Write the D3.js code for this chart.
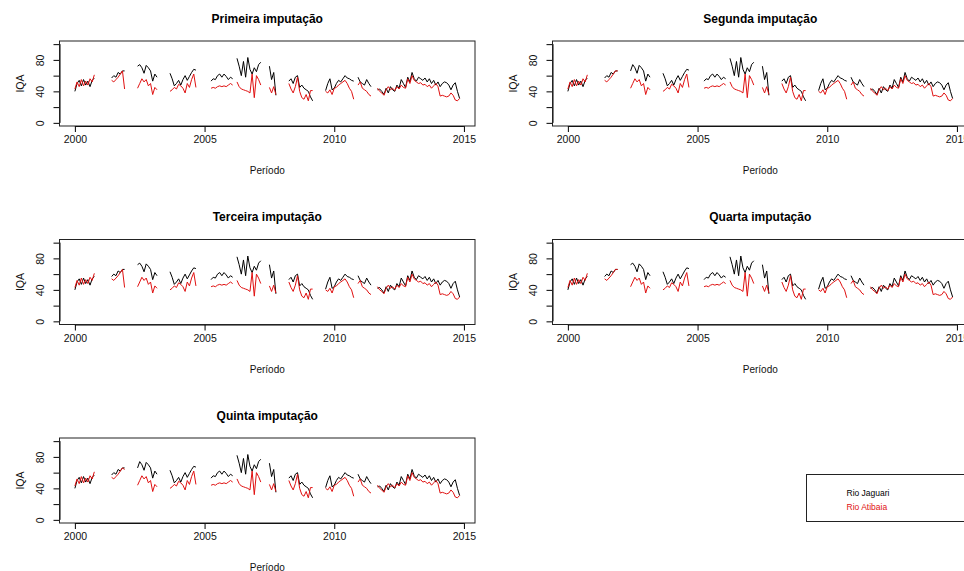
<!DOCTYPE html>
<html>
<head>
<meta charset="utf-8">
<script src="https://cdn.jsdelivr.net/npm/d3@7"></script>
<style>
  body { margin: 0; background: #fff; }
  svg { display: block; font-family: "Liberation Sans", Arial, sans-serif; }
</style>
</head>
<body>
<svg id="chart" width="964" height="571"></svg>
<script>
// monthly series, month 0 = Jan 2000; each segment starts at segStart[i]
const segStart = [0, 17, 29, 44, 63, 75, 90, 99, 116, 131, 140];
const nMonths = 179;

const jaguari = [
  [40, 50, 54, 47, 55, 48, 53, 46, 54, 57],
  [57, 60, 58, 64, 62, 66, 66],
  [72, 74, 70, 63, 73, 70, 66, 53, 62, 58],
  [63, 56, 47, 50, 54, 48, 55, 60, 54, 59, 64, 68, 67],
  [53, 56, 55, 60, 62, 58, 62, 59, 55, 58, 56],
  [82, 72, 60, 78, 58, 83, 68, 62, 70, 65, 74, 77],
  [72, 55, 64, 35],
  [53, 56, 50, 58, 60, 45, 48, 44, 42, 40, 33, 28],
  [41, 50, 56, 42, 44, 50, 54, 52, 56, 60, 57, 56, 54, 53],
  [58, 52, 50, 48, 55, 50, 46],
  [42, 43, 40, 36, 44, 38, 46, 42, 40, 48, 44, 55, 50, 45, 58, 52, 64, 56, 53, 58,
   56, 54, 57, 52, 56, 50, 54, 48, 52, 46, 50, 52, 51, 48, 42, 48, 51, 40, 31]
];

const atibaia = [
  [43, 52, 46, 55, 47, 53, 48, 56, 52, 61],
  [54, 52, 55, 58, 62, 66, 43],
  [44, 50, 56, 52, 55, 47, 50, 36, 45, 42],
  [40, 42, 45, 43, 49, 47, 44, 38, 50, 45, 55, 62, 45],
  [44, 45, 44, 46, 47, 46, 47, 46, 48, 50, 48],
  [52, 46, 43, 42, 41, 40, 38, 62, 32, 60, 55, 48],
  [45, 38, 46, 36],
  [50, 43, 38, 46, 58, 40, 32, 30, 36, 28, 41, 41],
  [40, 38, 42, 36, 44, 45, 48, 50, 52, 54, 50, 44, 40, 30],
  [48, 52, 44, 42, 40, 36, 34],
  [44, 40, 38, 35, 42, 46, 42, 44, 41, 46, 43, 48, 45, 44, 56, 50, 60, 54, 52, 50,
   51, 48, 49, 46, 48, 44, 47, 50, 46, 34, 35, 34, 33, 34, 38, 35, 29, 28, 31]
];

const titles = ["Primeira imputação", "Segunda imputação", "Terceira imputação",
                "Quarta imputação", "Quinta imputação"];

// values that differ between imputations: [series (0 jaguari, 1 atibaia), month, value]
const imputed = [
  [],
  [[1, 23, 66], [0, 29, 66]],
  [],
  [[1, 23, 66]],
  [[1, 23, 64], [0, 29, 66]]
];

const xTicks = [2000, 2005, 2010, 2015];
const yTicks = [0, 20, 40, 60, 80, 100];
const yLabels = [0, 40, 80];
const seriesNames = ["Rio Jaguari", "Rio Atibaia"];
const seriesColors = ["#000000", "#e01010"];

function buildSeries(segs) {
  let s = new Array(nMonths).fill(null);
  segs.forEach((vals, i) => {
    vals.forEach((v, j) => { s[segStart[i] + j] = v; });
  });
  return s;
}

const svg = d3.select("#chart");
const boxW = 415.5, boxH = 85;
const colStep = 493, rowStep = 198.5;

// R style 4% padding on x
const t0 = 2000, t1 = 2000 + (nMonths - 1) / 12;
const pad = (t1 - t0) * 0.04;

let drawPanel = function(idx) {
  const row = Math.floor(idx / 2), col = idx % 2;
  const left = 59.5 + col * colStep, top = 41 + row * rowStep;

  const x = d3.scaleLinear().domain([t0 - pad, t1 + pad]).range([0, boxW]);
  const y = d3.scaleLinear().domain([-4, 104]).range([boxH, 0]);

  const g = svg.append("g").attr("transform", "translate(" + left + "," + top + ")");

  let series = [buildSeries(jaguari), buildSeries(atibaia)];
  for (let o of imputed[idx]) series[o[0]][o[1]] = o[2];

  const line = d3.line()
    .defined(d => d != null)
    .x((d, i) => x(2000 + i / 12))
    .y(d => y(d));

  series.forEach((s, k) => {
    g.append("path")
      .datum(s)
      .attr("d", line)
      .attr("fill", "none")
      .attr("stroke", seriesColors[k])
      .attr("stroke-width", 1)
      .attr("stroke-linejoin", "round");
  });

  // axes
  const xAxis = g.append("g")
    .attr("transform", "translate(0," + boxH + ")")
    .call(d3.axisBottom(x).tickValues(xTicks).tickFormat(d3.format("d")).tickSize(6).tickSizeOuter(0));
  xAxis.select(".domain").attr("d", "M" + x(2000) + ",0.5H" + x(2015));
  xAxis.selectAll("text").attr("y", 10).attr("dy", "0.71em")
    .style("font-size", "10.5px").attr("fill", "#111");

  const yAxis = g.append("g")
    .call(d3.axisLeft(y).tickValues(yTicks)
      .tickFormat(d => yLabels.includes(d) ? d : "").tickSize(6).tickSizeOuter(0));
  yAxis.select(".domain").attr("d", "M0.5," + y(0) + "V" + y(100));
  yAxis.selectAll("text")
    .attr("transform", "rotate(-90)")
    .attr("x", 0).attr("y", -15.5).attr("dy", 0)
    .attr("text-anchor", "middle")
    .style("font-size", "10.5px").attr("fill", "#111");

  g.append("rect")
    .attr("x", 0).attr("y", 0).attr("width", boxW).attr("height", boxH)
    .attr("fill", "none").attr("stroke", "#222").attr("stroke-width", 1);

  g.append("text")
    .attr("x", boxW / 2).attr("y", -18.5)
    .attr("text-anchor", "middle")
    .style("font-size", "12px").style("font-weight", "bold")
    .text(titles[idx]);

  g.append("text")
    .attr("x", boxW / 2).attr("y", boxH + 48)
    .attr("text-anchor", "middle")
    .style("font-size", "10px").attr("fill", "#111")
    .text("Período");

  g.append("text")
    .attr("transform", "translate(-35.5," + boxH / 2 + ") rotate(-90)")
    .attr("text-anchor", "middle")
    .style("font-size", "10.5px").attr("fill", "#111")
    .text("IQA");
};

titles.forEach((t, i) => drawPanel(i));

// legend
const leg = svg.append("g").attr("transform", "translate(806.5,474.5)");
leg.append("rect")
  .attr("width", 200).attr("height", 47)
  .attr("fill", "none").attr("stroke", "#222").attr("stroke-width", 1);
seriesNames.forEach((n, i) => {
  leg.append("text")
    .attr("x", 40).attr("y", 21.5 + i * 14)
    .style("font-size", "8.5px")
    .attr("fill", seriesColors[i])
    .text(n);
});
</script>
</body>
</html>
